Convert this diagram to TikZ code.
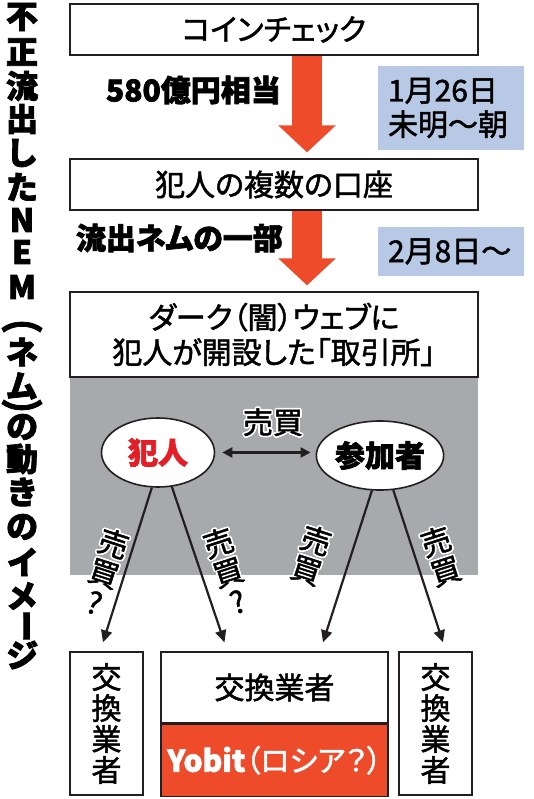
\documentclass[tikz,border=0pt]{standalone}
\usepackage{fontspec}
\usepackage{tikz}
\usepackage{contour}
\usetikzlibrary{arrows.meta,positioning,shapes.geometric}
\setmainfont{Noto Sans CJK JP}[RawFeature=+palt,UprightFeatures={FakeBold=1.6},BoldFeatures={FakeBold=2.2}]
\definecolor{arrowred}{RGB}{238,75,43}
\definecolor{culpritred}{RGB}{228,30,38}
\definecolor{timeblue}{RGB}{183,201,229}
\definecolor{webgray}{RGB}{167,169,172}
\definecolor{edge}{RGB}{35,31,32}
\contourlength{1.6pt}
\newcommand{\outl}[1]{\contour{white}{#1}}
\newcommand{\vparen}[1]{\rotatebox{-90}{\scalebox{1}[1.3]{#1}}}

\begin{document}
\begin{tikzpicture}[x=1pt,y=-1pt,
    box/.style={draw=edge,line width=1.3pt,fill=white,inner sep=0pt,minimum width=408pt,font=\fontsize{30}{35}\selectfont},
    timebox/.style={fill=timeblue,inner xsep=10pt,inner ysep=0pt,text width=126pt,align=left,font=\fontsize{30}{34}\selectfont},
    amount/.style={anchor=east,inner sep=0pt,font=\bfseries\fontsize{30}{30}\selectfont},
    bigflow/.style={arrowred,line width=30pt,-{Triangle[width=56pt,length=27pt]}},
    party/.style={ellipse,draw=edge,line width=1.6pt,fill=white,minimum width=113pt,minimum height=69pt,inner sep=0pt,font=\bfseries\fontsize{30}{30}\selectfont},
    trade/.style={edge,line width=2.2pt,-{Triangle[length=12pt,width=11pt]}},
    tradelabel/.style={inner sep=0pt,align=center,font=\fontsize{30}{31}\selectfont},
    dealer/.style={draw=edge,line width=1.3pt,fill=white,inner sep=0pt,align=center,font=\fontsize{30}{31}\selectfont},
    titlechar/.style={inner sep=0pt,font=\bfseries\fontsize{32}{32}\selectfont}]
    \useasboundingbox (0,0) rectangle (533,799);
    % Title
    \foreach \ch/\yy in {不/17,正/52,流/86,出/119,し/153,た/187,N/220,E/252,M/287,{\vparen{（}}/324,ネ/352,ム/386,{\vparen{）}}/408,の/427,動/459,き/492,の/527,イ/562,メ/596,{\rotatebox{-90}{ー}}/626,ジ/655}
        \node[titlechar] (title\yy) at (22,\yy) {\ch};
    % Upper flow
    \node[box,minimum height=51pt] (coin) at (274,29.5) {コインチェック};
    \node[box,minimum height=51pt] (acct) at (274,184.5) {犯人の複数の口座};
    \node[fill=webgray,inner sep=0pt,minimum width=408pt,minimum height=198pt] (web) at (274,476) {};
    \node[box,minimum height=85pt,align=center] (market) at (274,334.5) {ダーク（闇）ウェブに\\犯人が開設した「取引所」};
    \draw[bigflow] ([xshift=33pt]coin.south) -- ([xshift=33pt,yshift=6pt]acct.north);
    \draw[bigflow] ([xshift=33pt]acct.south) -- ([xshift=33pt,yshift=6pt]market.north);
    \node[amount] (amt) at (281,90) {580億円相当};
    \node[amount] (part) at (283,238) {流出ネムの一部};
    \node[timebox,minimum height=84pt] (time1) at (451,108) {1月26日\\未明～朝};
    \node[timebox,minimum height=49pt] (time2) at (451,251.5) {2月8日～};
    % Inside the market
    \node[party,text=culpritred] (thief) at (158,452.5) {犯人};
    \node[party] (user) at (380,455.5) {参加者};
    \draw[edge,line width=2.2pt,{Triangle[length=10pt,width=10pt]}-{Triangle[length=10pt,width=10pt]},shorten <=7pt,shorten >=5pt] (thief.east) -- (thief.east -| user.west);
    \node[tradelabel] (deal) at (273,423) {\outl{売買}};
    % Exchanges
    \node[dealer,minimum width=73pt,minimum height=143pt] (dealerL) at (106.5,723.5) {交\\換\\業\\者};
    \node[dealer,minimum width=227pt,minimum height=71pt] (dealerM) at (274.5,687.5) {交換業者};
    \node[dealer,fill=arrowred,text=white,minimum width=227pt,minimum height=72pt,below=0pt of dealerM] (yobit) {\textbf{Yobit}（ロシア？）};
    \node[dealer,minimum width=73pt,minimum height=143pt] (dealerR) at (435.5,723.5) {交\\換\\業\\者};
    % Trades
    \draw[trade] (thief.260) -- ([xshift=-3.5pt,yshift=9pt]dealerL.north);
    \draw[trade] (thief.292) -- ([xshift=-50pt,yshift=9pt]dealerM.north);
    \draw[trade] (user.257) -- ([xshift=48.5pt,yshift=9pt]dealerM.north);
    \draw[trade] (user.291) -- ([xshift=7.5pt,yshift=9pt]dealerR.north);
    \node[tradelabel,rotate=-18] (deal1) at (104,573) {\outl{売}\\\outl{買}\\\outl{?}};
    \node[tradelabel,rotate=18] (deal2) at (228,572) {\outl{売}\\\outl{買}\\\outl{?}};
    \node[tradelabel,rotate=-18] (deal3) at (311,556) {\outl{売}\\\outl{買}};
    \node[tradelabel,rotate=18] (deal4) at (441,557) {\outl{売}\\\outl{買}};
\end{tikzpicture}
\end{document}
